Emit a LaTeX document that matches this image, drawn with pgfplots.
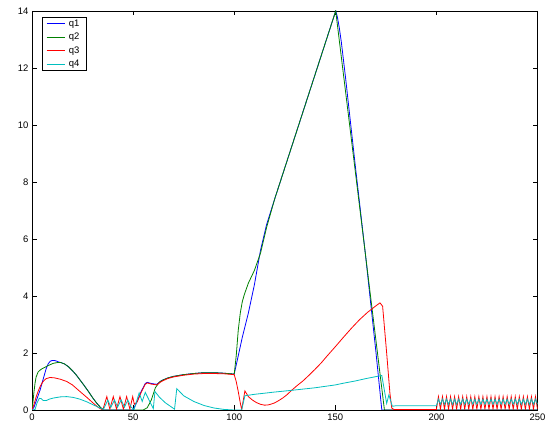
\documentclass[border=0pt]{standalone}
\usepackage{fontspec}
\setmainfont{Liberation Sans}
\usepackage{pgfplots}
\pgfplotsset{compat=1.18}
\usetikzlibrary{calc}
\definecolor{mblue}{rgb}{0,0,1}
\definecolor{mgreen}{rgb}{0,0.5,0}
\definecolor{mred}{rgb}{1,0,0}
\definecolor{mcyan}{rgb}{0,0.75,0.75}
\begin{document}
\begin{tikzpicture}
\begin{axis}[
  width=505.5bp, height=399bp, scale only axis,
  xmin=0, xmax=250, ymin=0, ymax=14,
  xtick={0,50,100,150,200,250}, ytick={0,2,4,6,8,10,12,14},
  tick align=inside,
  major tick length=4.5bp,
  tick style={black, line width=0.6bp},
  axis line style={black, line width=0.8bp},
  ticklabel style={font=\fontsize{9.5}{11}\selectfont},
  /pgf/number format/assume math mode=true,
  legend style={at={(0.0204,0.9857)}, anchor=north west, line width=0.6bp,
    fill=white, font=\fontsize{9.5}{11}\selectfont, inner xsep=3.5bp, inner ysep=2bp,
    row sep=4.5bp, nodes={inner ysep=0bp, inner xsep=3.2bp, text height=7bp, text depth=2bp},
    column 2/.style={nodes={text width=13bp}}},
  legend cell align=left,
  legend image code/.code={\draw[#1, line width=0.9bp] (0bp,0bp) -- (18.7bp,0bp);},
  every axis plot/.append style={line width=0.8bp},
]
\addplot[draw=mblue] coordinates {
(0,0) (1,0.1) (2,0.3) (3,0.5) (4,0.7) (5,0.95) (6,1.2) (7,1.45) (8,1.62) (9,1.71) (10,1.74) (11,1.74) (12,1.72) (13,1.69) (14,1.67) (16,1.62) (18,1.52) (20,1.38) (22,1.22) (24,1.03) (26,0.84) (28,0.64) (30,0.43) (32,0.24) (34,0.08) (35.3,0)
(50,0) (52,0.3) (54,0.65) (56,0.93) (57,0.97) (59,0.93) (61.7,0.9) (64,1.03) (67,1.12) (70,1.18) (75,1.24) (80,1.28) (85,1.31) (90,1.31) (95,1.29) (100,1.26)
(102,1.9) (104,2.55) (107,3.4) (110,4.4) (113,5.6) (116,6.5) (120,7.4) (150.2,14) (151,13.8) (152,13.4) (153,12.9) (155,11.7) (160,8.5) (165,5.4) (170,2.1) (173,0) (250,0)
};
\addlegendentry{q1}
\addplot[draw=mgreen] coordinates {
(0,0) (0.5,0.3) (1,0.65) (1.5,0.94) (2,1.15) (3,1.33) (4,1.4) (5,1.45) (6.4,1.5) (8,1.56) (10.6,1.64) (13,1.67) (14,1.67) (16,1.62) (18,1.52) (20,1.38) (22,1.22) (24,1.03) (26,0.84) (28,0.64) (30,0.43) (32,0.24) (34,0.08) (35.5,0)
(55,0) (57,0.08) (59,0.35) (61,0.78) (63,0.98) (65,1.06) (67,1.12) (70,1.18) (75,1.24) (80,1.28) (85,1.31) (90,1.31) (95,1.29) (100,1.26)
(101,1.9) (102,2.8) (103,3.4) (104,3.8) (105,4.05) (107,4.45) (110,4.9) (113,5.5) (116,6.4) (120,7.4) (150.2,14) (174.3,0) (250,0)
};
\addlegendentry{q2}
\addplot[draw=mred] coordinates {
(0,0) (1,0.2) (2,0.45) (3,0.65) (4,0.82) (5,0.95) (6,1.04) (7,1.1) (8.9,1.14) (11,1.13) (14,1.08) (17.2,1.0) (20,0.88) (23.7,0.65) (27,0.45) (30.3,0.24) (33,0.08) (35,0)
(37,0.47) (38.5,0.03) (40.2,0.47) (41.8,0.03) (43.5,0.47) (45.2,0.03) (46.8,0.47) (48.4,0.03) (49.8,0.47) (50.6,0.2)
(52,0.28) (54,0.62) (56,0.9) (57,0.95) (59,0.91) (61.7,0.88) (64,1.0) (67,1.1) (70,1.16) (75,1.22) (80,1.26) (85,1.28) (90,1.28) (95,1.27) (100,1.24)
(101,1.0) (102,0.65) (103,0.25) (103.7,0.02) (105.3,0.67) (107,0.47) (109,0.35) (111,0.26) (113,0.2) (115,0.17) (116.5,0.175) (118,0.2) (120,0.25) (122,0.33) (124,0.42) (126,0.53) (128.4,0.69) (131,0.85) (134,1.02) (137,1.22) (140,1.43) (143,1.65) (146,1.9) (150,2.22) (154,2.55) (158,2.87) (162,3.17) (166,3.43) (170,3.65) (172.1,3.76) (173.4,3.64) (175.4,2.0) (177,0.6) (177.9,0.07) (179,0.02) (200,0.02)
(201,0.47) (202,0.03) (203,0.47) (204,0.03) (205,0.47) (206,0.03) (207,0.47) (208,0.03) (209,0.47) (210,0.03) (211,0.47) (212,0.03) (213,0.47) (214,0.03) (215,0.47) (216,0.03) (217,0.47) (218,0.03) (219,0.47) (220,0.03) (221,0.47) (222,0.03) (223,0.47) (224,0.03) (225,0.47) (226,0.03) (227,0.47) (228,0.03) (229,0.47) (230,0.03) (231,0.47) (232,0.03) (233,0.47) (234,0.03) (235,0.47) (236,0.03) (237,0.47) (238,0.03) (239,0.47) (240,0.03) (241,0.47) (242,0.03) (243,0.47) (244,0.03) (245,0.47) (246,0.03) (247,0.47) (248,0.03) (249,0.47) (250,0.03)
};
\addlegendentry{q3}
\addplot[draw=mcyan] coordinates {
(0,0) (1.5,0.02) (2.5,0.25) (3.6,0.41) (4.5,0.4) (5.6,0.33) (7,0.33) (8.5,0.38) (10.6,0.42) (14,0.46) (17.2,0.47) (20.5,0.44) (23.7,0.38) (27,0.29) (30.3,0.18) (33,0.09) (35.3,0.02)
(37.5,0.35) (39,0.1) (40.8,0.35) (42.3,0.1) (44.1,0.35) (45.7,0.1) (47.4,0.35) (49,0.1) (50.5,0.02)
(53,0.6) (54.5,0.3) (56,0.62) (60,0.05) (60.8,0.65) (63,0.45) (66,0.25) (70.5,0.03) (71.6,0.75) (75,0.5) (80,0.3) (85,0.16) (90,0.07) (95,0.02) (100,0) (103.7,0)
(105.3,0.5) (110,0.55) (120,0.63) (128.4,0.69) (140,0.78) (150,0.88) (154,0.94) (160,1.02) (165,1.1) (170,1.17) (173,1.21) (175.4,0.23) (176.5,0.53) (178.2,0.13) (180,0.15) (200,0.15)
(201,0.38) (202,0.2) (203,0.38) (204,0.2) (205,0.38) (206,0.2) (207,0.38) (208,0.2) (209,0.38) (210,0.2) (211,0.38) (212,0.2) (213,0.38) (214,0.2) (215,0.38) (216,0.2) (217,0.38) (218,0.2) (219,0.38) (220,0.2) (221,0.38) (222,0.2) (223,0.38) (224,0.2) (225,0.38) (226,0.2) (227,0.38) (228,0.2) (229,0.38) (230,0.2) (231,0.38) (232,0.2) (233,0.38) (234,0.2) (235,0.38) (236,0.2) (237,0.38) (238,0.2) (239,0.38) (240,0.2) (241,0.38) (242,0.2) (243,0.38) (244,0.2) (245,0.38) (246,0.2) (247,0.38) (248,0.2) (249,0.38) (250,0.2)
};
\addlegendentry{q4}
\end{axis}
\path ($(current axis.south west)+(-32bp,-17bp)$) rectangle ($(current axis.north east)+(17.5bp,11bp)$);
\end{tikzpicture}
\end{document}
